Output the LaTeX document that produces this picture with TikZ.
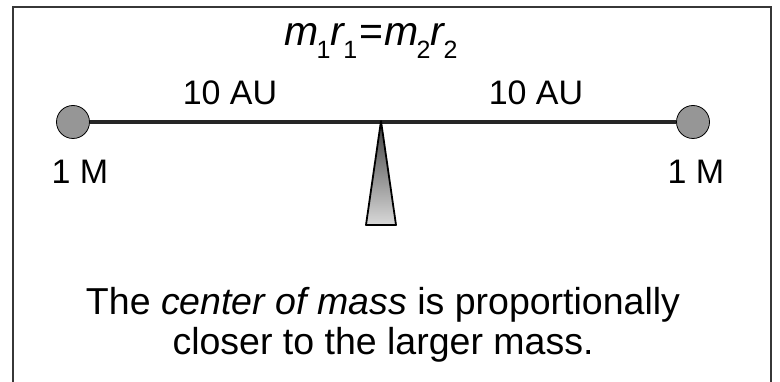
\documentclass[tikz,border=0pt]{standalone}
\usepackage{fontspec}
\setmainfont{Liberation Sans}
\usepackage{tikz}
\usetikzlibrary{positioning, calc}
\definecolor{ballgray}{RGB}{150,150,150}
\definecolor{framegray}{RGB}{55,55,55}
\newcommand{\msub}[2]{\textit{#1}\kern-0.05em\raisebox{-0.3em}{\fontsize{25}{25}\selectfont #2}}

\begin{document}
\begin{tikzpicture}[x=1pt, y=-1pt]
  \tikzstyle{mass} = [circle, draw=black, fill=ballgray, minimum size=33pt, inner sep=0pt, line width=0.8pt]
  \tikzstyle{beam} = [line width=3.2pt, black!85]
  \tikzstyle{pivot} = [draw=black, line width=1.8pt, line join=round, top color=gray!50!black, bottom color=gray!30]
  \tikzstyle{lbl} = [font=\fontsize{34}{34}\selectfont, inner sep=0pt, anchor=base]
  \tikzstyle{note} = [font=\fontsize{37.5}{40}\selectfont, inner sep=0pt, align=center]

  \useasboundingbox (0,0) rectangle (780,382);
  \clip (0,0) rectangle (780,382);
  \draw[line width=2pt, framegray] (13,7) rectangle (771,420);

  \node [mass] (m1) at (73,122) {};
  \node [mass] (m2) at (693,122) {};
  \draw[beam] (m1) -- (m2);

  \coordinate (apex) at (381,121);
  \path[pivot] (apex) -- ++(-15,104) -- ++(30,0) -- cycle;

  \node [lbl, font=\fontsize{41}{41}\selectfont] (law) at (371,46) {\msub{m}{1}\msub{r}{1}\kern0.04em=\kern0.04em\msub{m}{2}\msub{r}{2}};
  \node [lbl] (r1) at (230,105) {10 AU};
  \node [lbl] (r2) at (536,105) {10 AU};
  \node [lbl] (w1) at (80,184) {1 M};
  \node [lbl] (w2) at (696,184) {1 M};

  \node [note] (caption) at (383,325) {The \textit{center of mass} is proportionally\\closer to the larger mass.};
\end{tikzpicture}
\end{document}
